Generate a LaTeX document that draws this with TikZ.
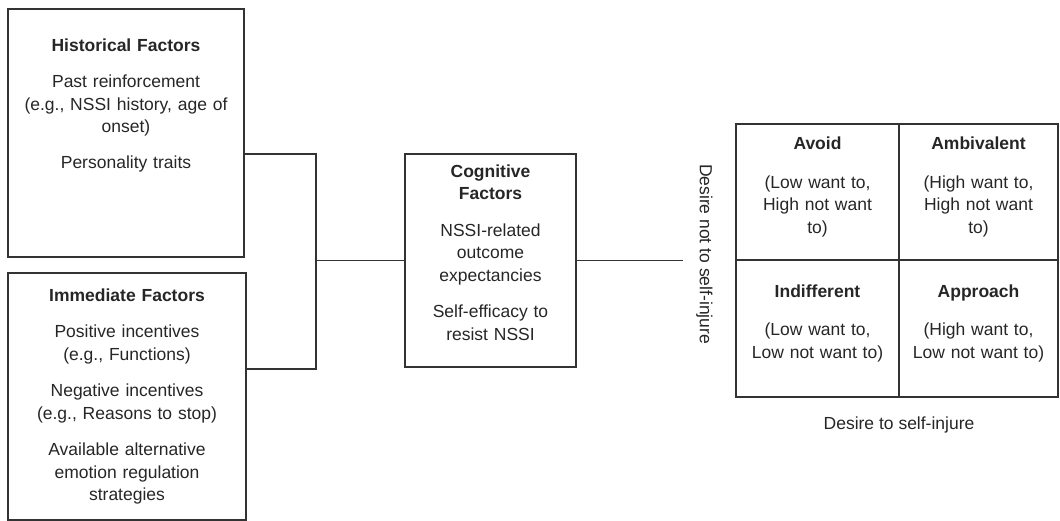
\documentclass[tikz,border=0pt]{standalone}
\usepackage{fontspec}
\setmainfont{Liberation Sans}

\begin{document}
\begin{tikzpicture}[x=1pt, y=-1pt,
	every node/.style={font=\fontsize{17.5}{22.5}\selectfont, text=black!85},
	factor/.style={draw=black!80, line width=1.5pt, align=center, inner sep=4pt},
	cell/.style={draw=black!80, line width=1.5pt, align=center, text width=150pt, inner sep=4pt},
	link/.style={draw=black!80, line width=1.5pt}]
	\useasboundingbox (0,0) rectangle (1060,521);
	\node [factor, text width=226pt, minimum width=236pt, minimum height=248pt] (hist) at (126,133)
		{\textbf{Historical Factors}\\[14pt] Past reinforcement\\(e.g., NSSI history, age of\\onset)\\[13.5pt] Personality traits\\[36pt]\mbox{}};
	\node [factor, text width=226pt, minimum width=238pt, minimum height=247pt] (imm) at (127,396.5)
		{\textbf{Immediate Factors}\\[14pt] Positive incentives\\(e.g., Functions)\\[14pt] Negative incentives\\(e.g., Reasons to stop)\\[14pt] Available alternative\\emotion regulation\\strategies};
	\node [factor, text width=160pt, minimum width=171pt, minimum height=213pt] (cog) at (490.5,260.5)
		{\textbf{Cognitive}\\\textbf{Factors}\\[14pt] NSSI-related\\outcome\\expectancies\\[14pt] Self-efficacy to\\resist NSSI\\[-6.5pt]\mbox{}};
	\node [cell, minimum width=163pt, minimum height=136pt] (avoid) at (817.5,192)
		{\textbf{Avoid}\\[16pt](Low want to,\\High not want\\to)\\[-8.5pt]\mbox{}};
	\node [cell, minimum width=159pt, minimum height=136pt] (ambiv) at (978.5,192)
		{\textbf{Ambivalent}\\[16pt](High want to,\\High not want\\to)\\[-8.5pt]\mbox{}};
	\node [cell, minimum width=163pt, minimum height=137pt] (indiff) at (817.5,328.5)
		{\textbf{Indifferent}\\[15.5pt](Low want to,\\Low not want to)\\[-8.5pt]\mbox{}};
	\node [cell, minimum width=159pt, minimum height=137pt] (appr) at (978.5,328.5)
		{\textbf{Approach}\\[15.5pt](High want to,\\Low not want to)\\[-8.5pt]\mbox{}};
	\node [rotate=-90, anchor=south, inner ysep=13pt] (notwant) at (683,254) {Desire not to self-injure};
	\node (want) at (899,425) {Desire to self-injure};
	\coordinate (join) at (316,260.5);
	\draw [link] ([yshift=-21pt]hist.east) -| (join);
	\draw [link] ([yshift=27.5pt]imm.east) -| (join);
	\draw [link] (join) -- (cog.west);
	\draw [link] (cog.east) -- (cog.east -| notwant.south);
\end{tikzpicture}
\end{document}
